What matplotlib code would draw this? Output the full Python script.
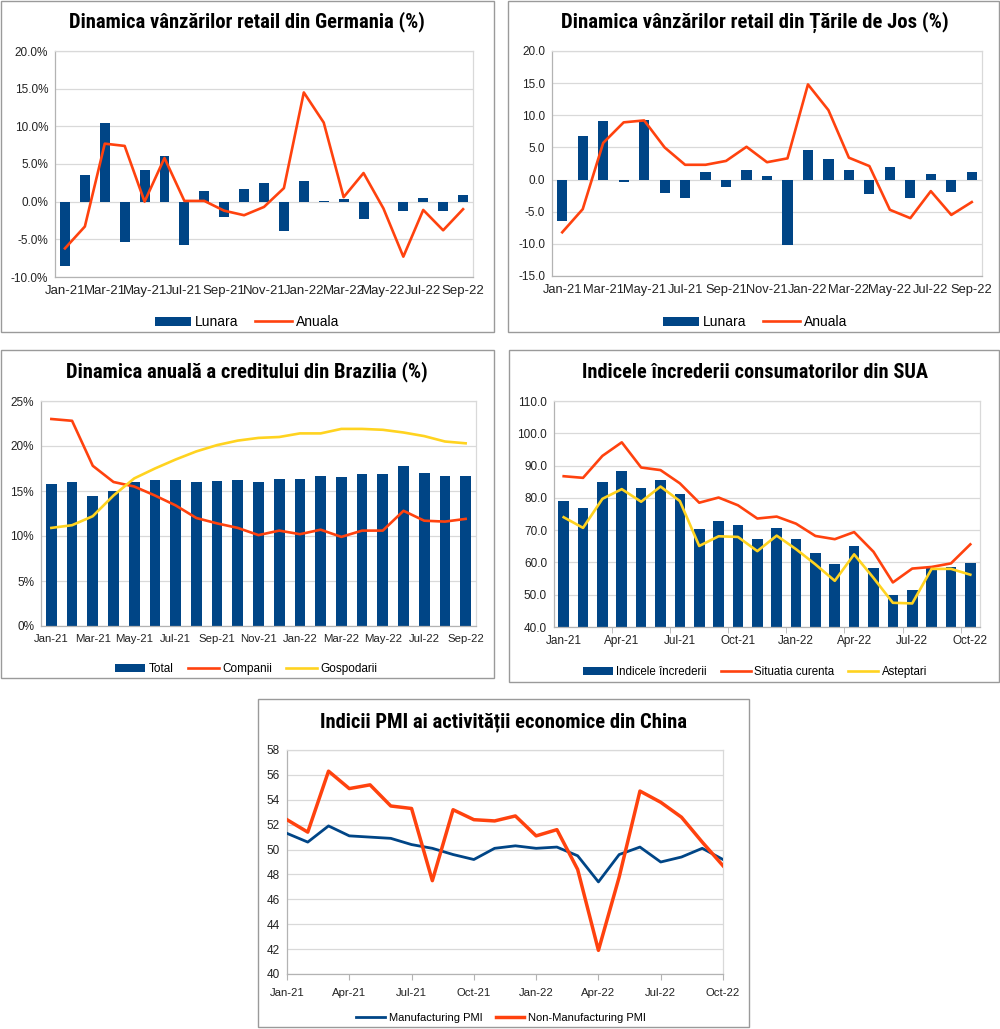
import matplotlib
matplotlib.use('Agg')
import matplotlib.pyplot as plt
from matplotlib.patches import Rectangle, Patch
from matplotlib.lines import Line2D
from matplotlib.ticker import FuncFormatter, MultipleLocator, FixedLocator
from matplotlib import font_manager

plt.rcParams['font.family'] = ['Liberation Sans', 'DejaVu Sans']

# ---------------- data ----------------
months_sep = ['Jan-21', 'Feb-21', 'Mar-21', 'Apr-21', 'May-21', 'Jun-21', 'Jul-21',
              'Aug-21', 'Sep-21', 'Oct-21', 'Nov-21', 'Dec-21', 'Jan-22', 'Feb-22',
              'Mar-22', 'Apr-22', 'May-22', 'Jun-22', 'Jul-22', 'Aug-22', 'Sep-22']
months_oct = months_sep + ['Oct-22']

de_lunara = [-8.6, 3.5, 10.5, -5.3, 4.2, 6.0, -5.8, 1.4, -2.0, 1.7, 2.5, -3.9,
             2.7, 0.1, 0.4, -2.3, -0.1, -1.2, 0.5, -1.3, 0.9]
de_anuala = [-6.2, -3.3, 7.7, 7.4, 0.0, 5.8, 0.1, 0.1, -1.2, -1.8, -0.7, 1.8,
             14.5, 10.5, 0.6, 3.8, -0.9, -7.3, -1.1, -3.8, -1.0]

nl_lunara = [-6.5, 6.8, 9.1, -0.4, 9.3, -2.1, -2.9, 1.2, -1.2, 1.5, 0.6, -10.1,
             4.6, 3.2, 1.5, -2.3, 1.9, -2.9, 0.9, -2.0, 1.1]
nl_anuala = [-8.2, -4.6, 5.7, 8.9, 9.2, 5.0, 2.3, 2.3, 2.9, 5.1, 2.7, 3.3,
             14.8, 10.8, 3.4, 2.1, -4.7, -6.0, -1.8, -5.5, -3.5]

br_total = [15.8, 16.0, 14.5, 15.0, 16.0, 16.2, 16.2, 16.0, 16.1, 16.2, 16.0, 16.3,
            16.3, 16.7, 16.6, 16.9, 16.9, 17.8, 17.0, 16.7, 16.7]
br_companii = [23.0, 22.8, 17.8, 16.0, 15.5, 14.5, 13.4, 12.0, 11.4, 10.9, 10.1, 10.6,
               10.2, 10.7, 9.9, 10.6, 10.6, 12.8, 11.7, 11.6, 11.9]
br_gospodarii = [10.9, 11.2, 12.2, 14.5, 16.4, 17.5, 18.5, 19.4, 20.1, 20.6, 20.9, 21.0,
                 21.4, 21.4, 21.9, 21.9, 21.8, 21.5, 21.1, 20.5, 20.3]

us_index = [79.0, 76.8, 84.9, 88.3, 82.9, 85.5, 81.2, 70.3, 72.8, 71.7, 67.4, 70.6,
            67.2, 62.8, 59.4, 65.2, 58.4, 50.0, 51.5, 58.2, 58.6, 59.9]
us_current = [86.7, 86.2, 93.0, 97.2, 89.4, 88.6, 84.5, 78.5, 80.1, 77.7, 73.6, 74.2,
              72.0, 68.2, 67.2, 69.4, 63.3, 53.8, 58.1, 58.6, 59.7, 65.6]
us_expect = [74.0, 70.7, 79.7, 82.7, 78.8, 83.5, 79.0, 65.1, 68.1, 67.9, 63.5, 68.3,
             64.1, 59.4, 54.3, 62.5, 55.2, 47.5, 47.3, 58.0, 58.0, 56.2]

cn_manuf = [51.3, 50.6, 51.9, 51.1, 51.0, 50.9, 50.4, 50.1, 49.6, 49.2, 50.1, 50.3,
            50.1, 50.2, 49.5, 47.4, 49.6, 50.2, 49.0, 49.4, 50.1, 49.2]
cn_nonmanuf = [52.4, 51.4, 56.3, 54.9, 55.2, 53.5, 53.3, 47.5, 53.2, 52.4, 52.3, 52.7,
               51.1, 51.6, 48.4, 41.9, 47.8, 54.7, 53.8, 52.6, 50.6, 48.7]

titles = ['Dinamica vânzărilor retail din Germania (%)',
          'Dinamica vânzărilor retail din Țările de Jos (%)',
          'Dinamica anuală a creditului din Brazilia (%)',
          'Indicele încrederii consumatorilor din SUA',
          'Indicii PMI ai activității economice din China']

# ---------------- styling ----------------
W, H = 1000, 1029
BLUE = '#004586'
ORANGE = '#ff420e'
YELLOW = '#ffd320'
GRID = '#d9d9d9'
AXC = '#b3b3b3'

installed = {f.name for f in font_manager.fontManager.ttflist}
narrow = [f for f in ['Liberation Sans Narrow', 'Roboto Condensed', 'Open Sans Condensed',
                      'DejaVu Sans Condensed', 'Noto Sans Condensed'] if f in installed]
TFONT = narrow + ['Roboto', 'Liberation Sans', 'DejaVu Sans']

fig = plt.figure(figsize=(W / 100, H / 100), dpi=100)
renderer = fig.canvas.get_renderer()


def fx(x):
    return x / W


def fy(y):
    return 1 - y / H


def panel(l, t, r, b):
    fig.patches.append(Rectangle((fx(l), fy(b)), fx(r - l), (b - t) / H,
                                 transform=fig.transFigure, fill=False,
                                 edgecolor='#9a9a9a', linewidth=1.0))


def make_ax(l, t, r, b, xsize):
    ax = fig.add_axes([fx(l), fy(b), fx(r - l), (b - t) / H])
    ax.set_axisbelow(True)
    ax.yaxis.grid(True, color=GRID, linewidth=0.9)
    for s in ['top', 'right']:
        ax.spines[s].set_color(GRID)
        ax.spines[s].set_linewidth(0.9)
    for s in ['left', 'bottom']:
        ax.spines[s].set_color(AXC)
        ax.spines[s].set_linewidth(0.9)
    ax.tick_params(axis='y', labelsize=8.5, colors='#222222', length=0, pad=5)
    ax.tick_params(axis='x', labelsize=xsize, colors='#222222', length=0, pad=6)
    return ax


def title(x, y, text, target_w):
    t = fig.text(fx(x), fy(y), text, ha='center', va='center', fontsize=15,
                 fontweight='bold', family=TFONT, fontstretch='condensed', color='black')
    w = t.get_window_extent(renderer).width
    t.set_fontsize(min(16, 15 * target_w / w))


def legend(x, y, handles, labels, size):
    fig.legend(handles, labels, loc='center', bbox_to_anchor=(fx(x), fy(y)),
               ncol=len(handles), frameon=False, fontsize=size,
               handlelength=2.6, handleheight=0.6, handletextpad=0.3,
               columnspacing=1.2, borderpad=0)


bar_h = Patch(facecolor=BLUE, edgecolor='none')
org_h = Line2D([], [], color=ORANGE, lw=1.9)
yel_h = Line2D([], [], color=YELLOW, lw=1.9)

# ---------------- Panel 1: Germany ----------------
panel(1, 1, 494, 332)
ax = make_ax(55, 51, 473, 277, 9.5)
n = len(months_sep)
x = list(range(n))
ax.bar(x, de_lunara, width=0.5, color=BLUE, zorder=2)
ax.plot(x, de_anuala, color=ORANGE, lw=1.9, zorder=3)
ax.set_xlim(-0.5, n - 0.5)
ax.set_ylim(-10, 20)
ax.yaxis.set_major_locator(MultipleLocator(5))
ax.yaxis.set_major_formatter(FuncFormatter(lambda v, p: f'{v:.1f}%'))
ax.set_xticks(x[::2])
ax.set_xticklabels(months_sep[::2])
title(247, 22, titles[0], 357)
legend(247, 322, [bar_h, org_h], ['Lunara', 'Anuala'], 10)

# ---------------- Panel 2: Netherlands ----------------
panel(508, 1, 999, 332)
ax = make_ax(552, 51, 982, 276, 9.3)
ax.bar(x, nl_lunara, width=0.5, color=BLUE, zorder=2)
ax.plot(x, nl_anuala, color=ORANGE, lw=1.9, zorder=3)
ax.set_xlim(-0.5, n - 0.5)
ax.set_ylim(-15, 20)
ax.yaxis.set_major_locator(MultipleLocator(5))
ax.yaxis.set_major_formatter(FuncFormatter(lambda v, p: f'{v:.1f}'))
ax.set_xticks(x[::2])
ax.set_xticklabels(months_sep[::2])
title(755, 22, titles[1], 387)
legend(755, 322, [bar_h, org_h], ['Lunara', 'Anuala'], 10)

# ---------------- Panel 3: Brazil ----------------
panel(1, 350, 494, 678)
ax = make_ax(41, 401, 476, 626, 8.2)
ax.bar(x, br_total, width=0.52, color=BLUE, zorder=2)
ax.plot(x, br_companii, color=ORANGE, lw=1.9, zorder=3)
ax.plot(x, br_gospodarii, color=YELLOW, lw=1.9, zorder=3)
ax.set_xlim(-0.5, n - 0.5)
ax.set_ylim(0, 25)
ax.yaxis.set_major_locator(MultipleLocator(5))
ax.yaxis.set_major_formatter(FuncFormatter(lambda v, p: f'{v:.0f}%'))
ax.set_xticks(x[::2])
ax.set_xticklabels(months_sep[::2])
title(247, 372, titles[2], 362)
legend(246, 669, [bar_h, org_h, yel_h], ['Total', 'Companii', 'Gospodarii'], 8.5)

# ---------------- Panel 4: USA ----------------
panel(509, 350, 999, 682)
ax = make_ax(554, 401, 980, 627, 8.5)
m = len(months_oct)
x2 = list(range(m))
ax.bar(x2, us_index, width=0.55, color=BLUE, zorder=2)
ax.plot(x2, us_current, color=ORANGE, lw=1.9, zorder=3)
ax.plot(x2, us_expect, color=YELLOW, lw=1.9, zorder=3)
ax.set_xlim(-0.5, m - 0.5)
ax.set_ylim(40, 110)
ax.yaxis.set_major_locator(MultipleLocator(10))
ax.yaxis.set_major_formatter(FuncFormatter(lambda v, p: f'{v:.1f}'))
ax.set_xticks(x2[::3])
ax.set_xticklabels(months_oct[::3])
ax.xaxis.set_minor_locator(FixedLocator([i - 0.5 for i in range(3, m, 3)]))
ax.tick_params(axis='x', which='minor', length=4, color=AXC)
title(755, 372, titles[3], 346)
legend(755, 672, [bar_h, org_h, yel_h],
       ['Indicele încrederii', 'Situatia curenta', 'Asteptari'], 8.3)

# ---------------- Panel 5: China ----------------
panel(258, 699, 749, 1027)
ax = make_ax(287, 750, 723, 974, 8.2)
ax.plot(x2, cn_manuf, color=BLUE, lw=2.0, zorder=3)
ax.plot(x2, cn_nonmanuf, color=ORANGE, lw=2.5, zorder=3)
ax.set_xlim(0, m - 1)
ax.set_ylim(40, 58)
ax.yaxis.set_major_locator(MultipleLocator(2))
ax.yaxis.set_major_formatter(FuncFormatter(lambda v, p: f'{v:.0f}'))
ax.set_xticks(x2[::3])
ax.set_xticklabels(months_oct[::3])
ax.tick_params(axis='x', which='major', length=4, color=AXC)
title(504, 722, titles[4], 368)
legend(501, 1018, [Line2D([], [], color=BLUE, lw=2.0), Line2D([], [], color=ORANGE, lw=2.5)],
       ['Manufacturing PMI', 'Non-Manufacturing PMI'], 8)

fig.savefig('out.png', dpi=100, facecolor='white')
